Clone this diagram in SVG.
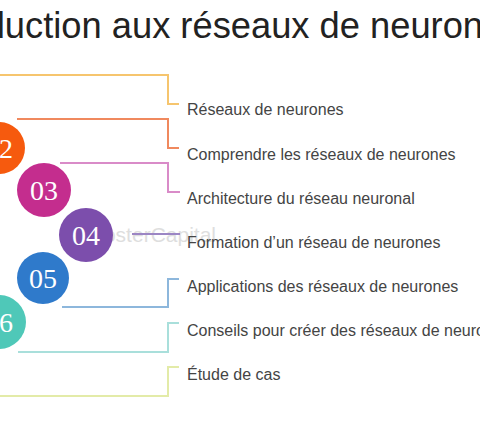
<svg xmlns="http://www.w3.org/2000/svg" width="480" height="432" viewBox="0 0 480 432">
<style>
.title{font-family:"Liberation Sans",Arial,sans-serif;font-size:36.3px;fill:#222}
.lbl{font-family:"Liberation Sans",Arial,sans-serif;font-size:16px;fill:#444}
.num{font-family:"Liberation Serif","Times New Roman",serif;font-size:28px;fill:#fff;text-anchor:middle}
.con{fill:none;stroke-width:2}
.wm{font-family:"Liberation Sans",Arial,sans-serif;font-size:21px;fill:#dedede}
</style>
<rect width="480" height="432" fill="#fff"/>
<text class="title" x="-88" y="38">Introduction aux réseaux de neurones</text>
<text class="wm" x="216" y="242" text-anchor="end">PosterCapital</text>
<g id="connectors">
<polyline class="con" stroke="#F6C56E" points="0,75 168,75 168,104 179,104"/>
<polyline class="con" stroke="#F0895E" points="17,119 168,119 168,148 179,148"/>
<polyline class="con" stroke="#D98BC8" points="60,163 168,163 168,192 180,192"/>
<line class="con" stroke="#9C86C4" x1="132" y1="234" x2="180" y2="234"/>
<polyline class="con" stroke="#8DB7DC" points="62,307 168,307 168,279 179,279"/>
<polyline class="con" stroke="#A9DFDB" points="18,352 168,352 168,323 179,323"/>
<polyline class="con" stroke="#E3EBA8" points="0,396 168,396 168,367 179,367"/>
</g>
<g id="n2"><circle cx="-1" cy="148" r="26" fill="#F65A0E"/><text class="num" x="-1" y="158">02</text></g>
<g id="n3"><circle cx="44" cy="190" r="27" fill="#C42D8E"/><text class="num" x="44" y="200">03</text></g>
<g id="n4"><circle cx="86" cy="235" r="27" fill="#7C4EAC"/><text class="num" x="86" y="245">04</text></g>
<g id="n5"><circle cx="43" cy="278" r="26" fill="#2F7ACB"/><text class="num" x="43" y="288">05</text></g>
<g id="n6"><circle cx="-1" cy="322" r="27" fill="#4FC8B8"/><text class="num" x="-1" y="332">06</text></g>
<g id="t1"><text class="lbl" x="187" y="115">Réseaux de neurones</text></g>
<g id="t2"><text class="lbl" x="187" y="160">Comprendre les réseaux de neurones</text></g>
<g id="t3"><text class="lbl" x="187" y="204">Architecture du réseau neuronal</text></g>
<g id="t4"><text class="lbl" x="187" y="248">Formation d’un réseau de neurones</text></g>
<g id="t5"><text class="lbl" x="187" y="292">Applications des réseaux de neurones</text></g>
<g id="t6"><text class="lbl" x="187" y="336">Conseils pour créer des réseaux de neurones</text></g>
<g id="t7"><text class="lbl" x="187" y="380">Étude de cas</text></g>
</svg>
